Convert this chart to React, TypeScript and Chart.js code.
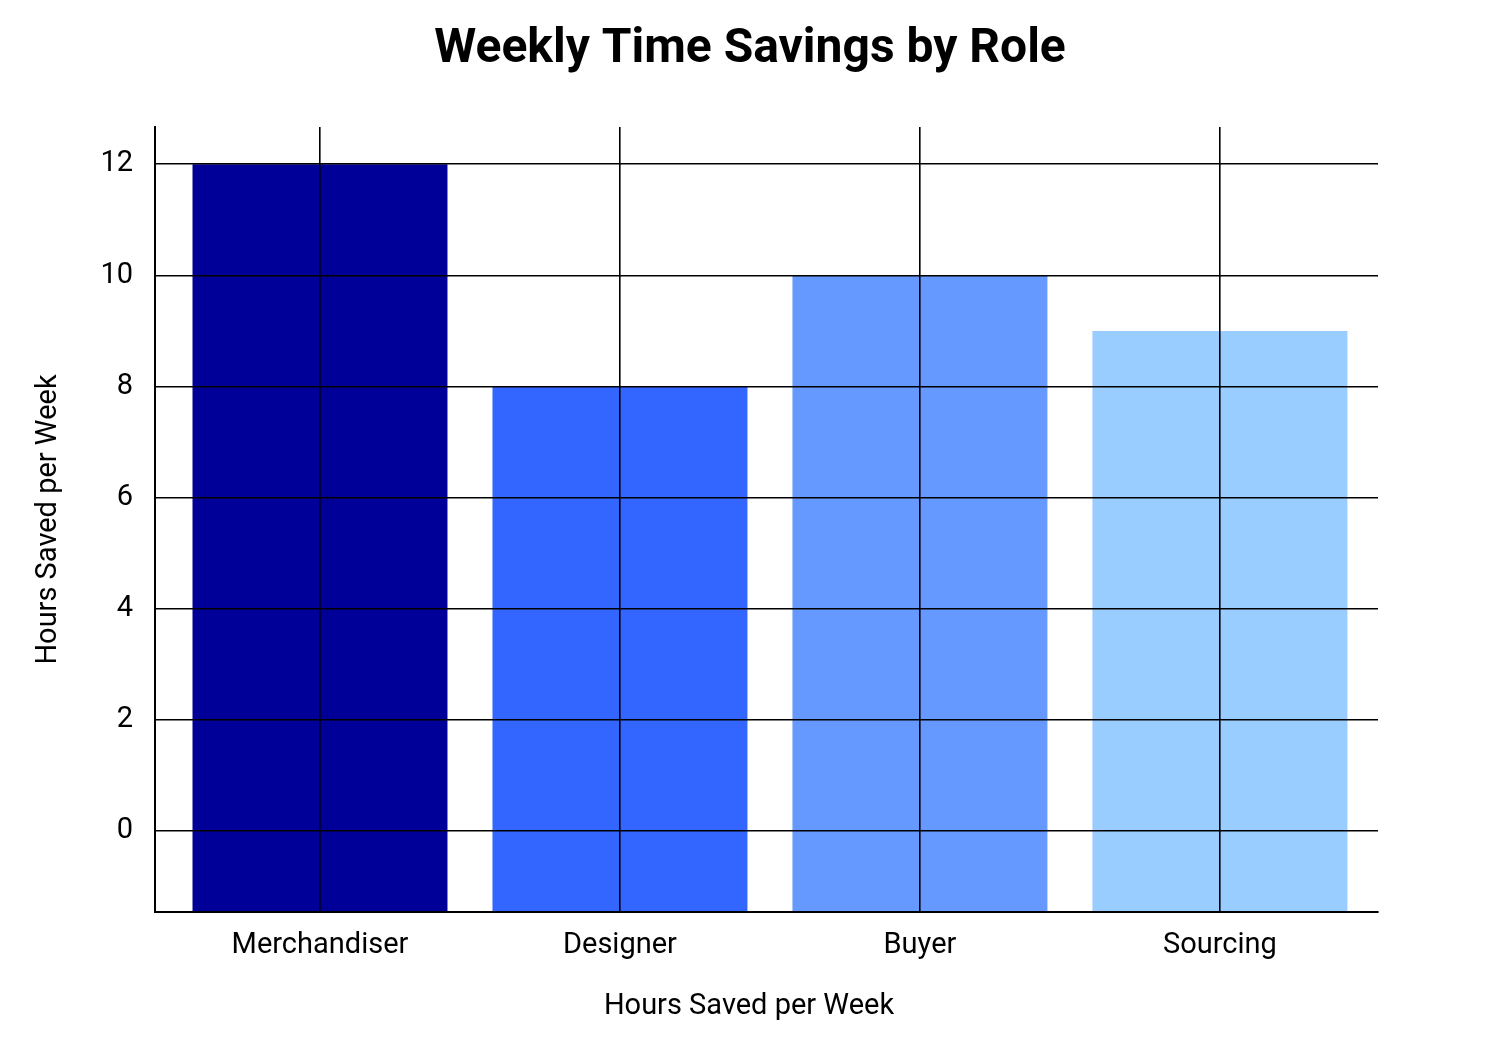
import { useEffect, useRef } from "react";
import Chart from "chart.js/auto";

const chartTitle = "Weekly Time Savings by Role";
const axisLabel = "Hours Saved per Week";
const roles = ["Merchandiser", "Designer", "Buyer", "Sourcing"];
const hoursSaved = [12, 8, 10, 9];
const barColors = ["#000099", "#3366FF", "#6699FF", "#99CCFF"];
const yTicks = [0, 2, 4, 6, 8, 10, 12];
const yMin = -1.46;
const yMax = 12.67;
const xMin = -0.55;
const xMax = 3.527;

// title and x-axis label are centred on the whole canvas, not on the chart area
const centeredTexts = {
  id: "centeredTexts",
  afterDraw(chart: Chart) {
    const { ctx } = chart;
    ctx.save();
    ctx.fillStyle = "#000";
    ctx.textAlign = "center";
    ctx.textBaseline = "alphabetic";
    ctx.font = "bold 48px Roboto";
    ctx.fillText(chartTitle, chart.width / 2, 62);
    ctx.textBaseline = "middle";
    ctx.font = "29px Roboto";
    ctx.fillText(axisLabel, chart.width / 2 - 1, 1007);
    ctx.restore();
  },
};

export default function App() {
  const chartRef = useRef<HTMLCanvasElement>(null);
  const chartInstance = useRef<Chart | null>(null);

  useEffect(() => {
    document.body.style.margin = "0";
    if (!chartRef.current) return;
    if (chartInstance.current) chartInstance.current.destroy();

    const font = "Roboto";

    chartInstance.current = new Chart(chartRef.current, {
      type: "bar",
      data: {
        datasets: [
          {
            label: axisLabel,
            data: hoursSaved.map((v, i) => ({ x: i, y: v })),
            backgroundColor: barColors,
            base: yMin,
            categoryPercentage: 1,
            barPercentage: 0.85,
          },
        ],
      },
      options: {
        animation: false,
        responsive: false,
        maintainAspectRatio: false,
        layout: { padding: { top: 127, right: 122, bottom: 20, left: 20 } },
        plugins: {
          legend: { display: false },
          tooltip: { enabled: false },
          title: { display: false },
        },
        scales: {
          x: {
            type: "linear",
            min: xMin,
            max: xMax,
            offset: false,
            afterBuildTicks: (axis) => {
              axis.ticks = roles.map((_, i) => ({ value: i }));
            },
            afterFit: (axis) => {
              axis.height = 113;
            },
            grid: { offset: false, z: 1, color: "#000", lineWidth: 1.6, drawTicks: false },
            border: { display: true, color: "#000", width: 2, z: 1 },
            ticks: {
              color: "#000",
              font: { family: font, size: 29 },
              padding: 16,
              callback: (v) => roles[Number(v)] ?? "",
            },
            title: { display: false },
          },
          y: {
            min: yMin,
            max: yMax,
            afterBuildTicks: (axis) => {
              axis.ticks = yTicks.map((v) => ({ value: v }));
            },
            afterFit: (axis) => {
              axis.width = 135;
            },
            grid: { z: 1, color: "#000", lineWidth: 1.6, drawTicks: false },
            border: { display: true, color: "#000", width: 2, z: 1 },
            ticks: { color: "#000", font: { family: font, size: 29 }, padding: 22 },
            title: {
              display: true,
              text: axisLabel,
              color: "#000",
              font: { family: font, size: 29 },
              padding: { top: 11, bottom: 0 },
            },
          },
        },
      },
      plugins: [centeredTexts],
    });

    return () => {
      if (chartInstance.current) chartInstance.current.destroy();
      chartInstance.current = null;
    };
  }, []);

  return (
    <div style={{ width: 1500, height: 1045, background: "#fff" }}>
      <canvas ref={chartRef} width={1500} height={1045} />
    </div>
  );
}
